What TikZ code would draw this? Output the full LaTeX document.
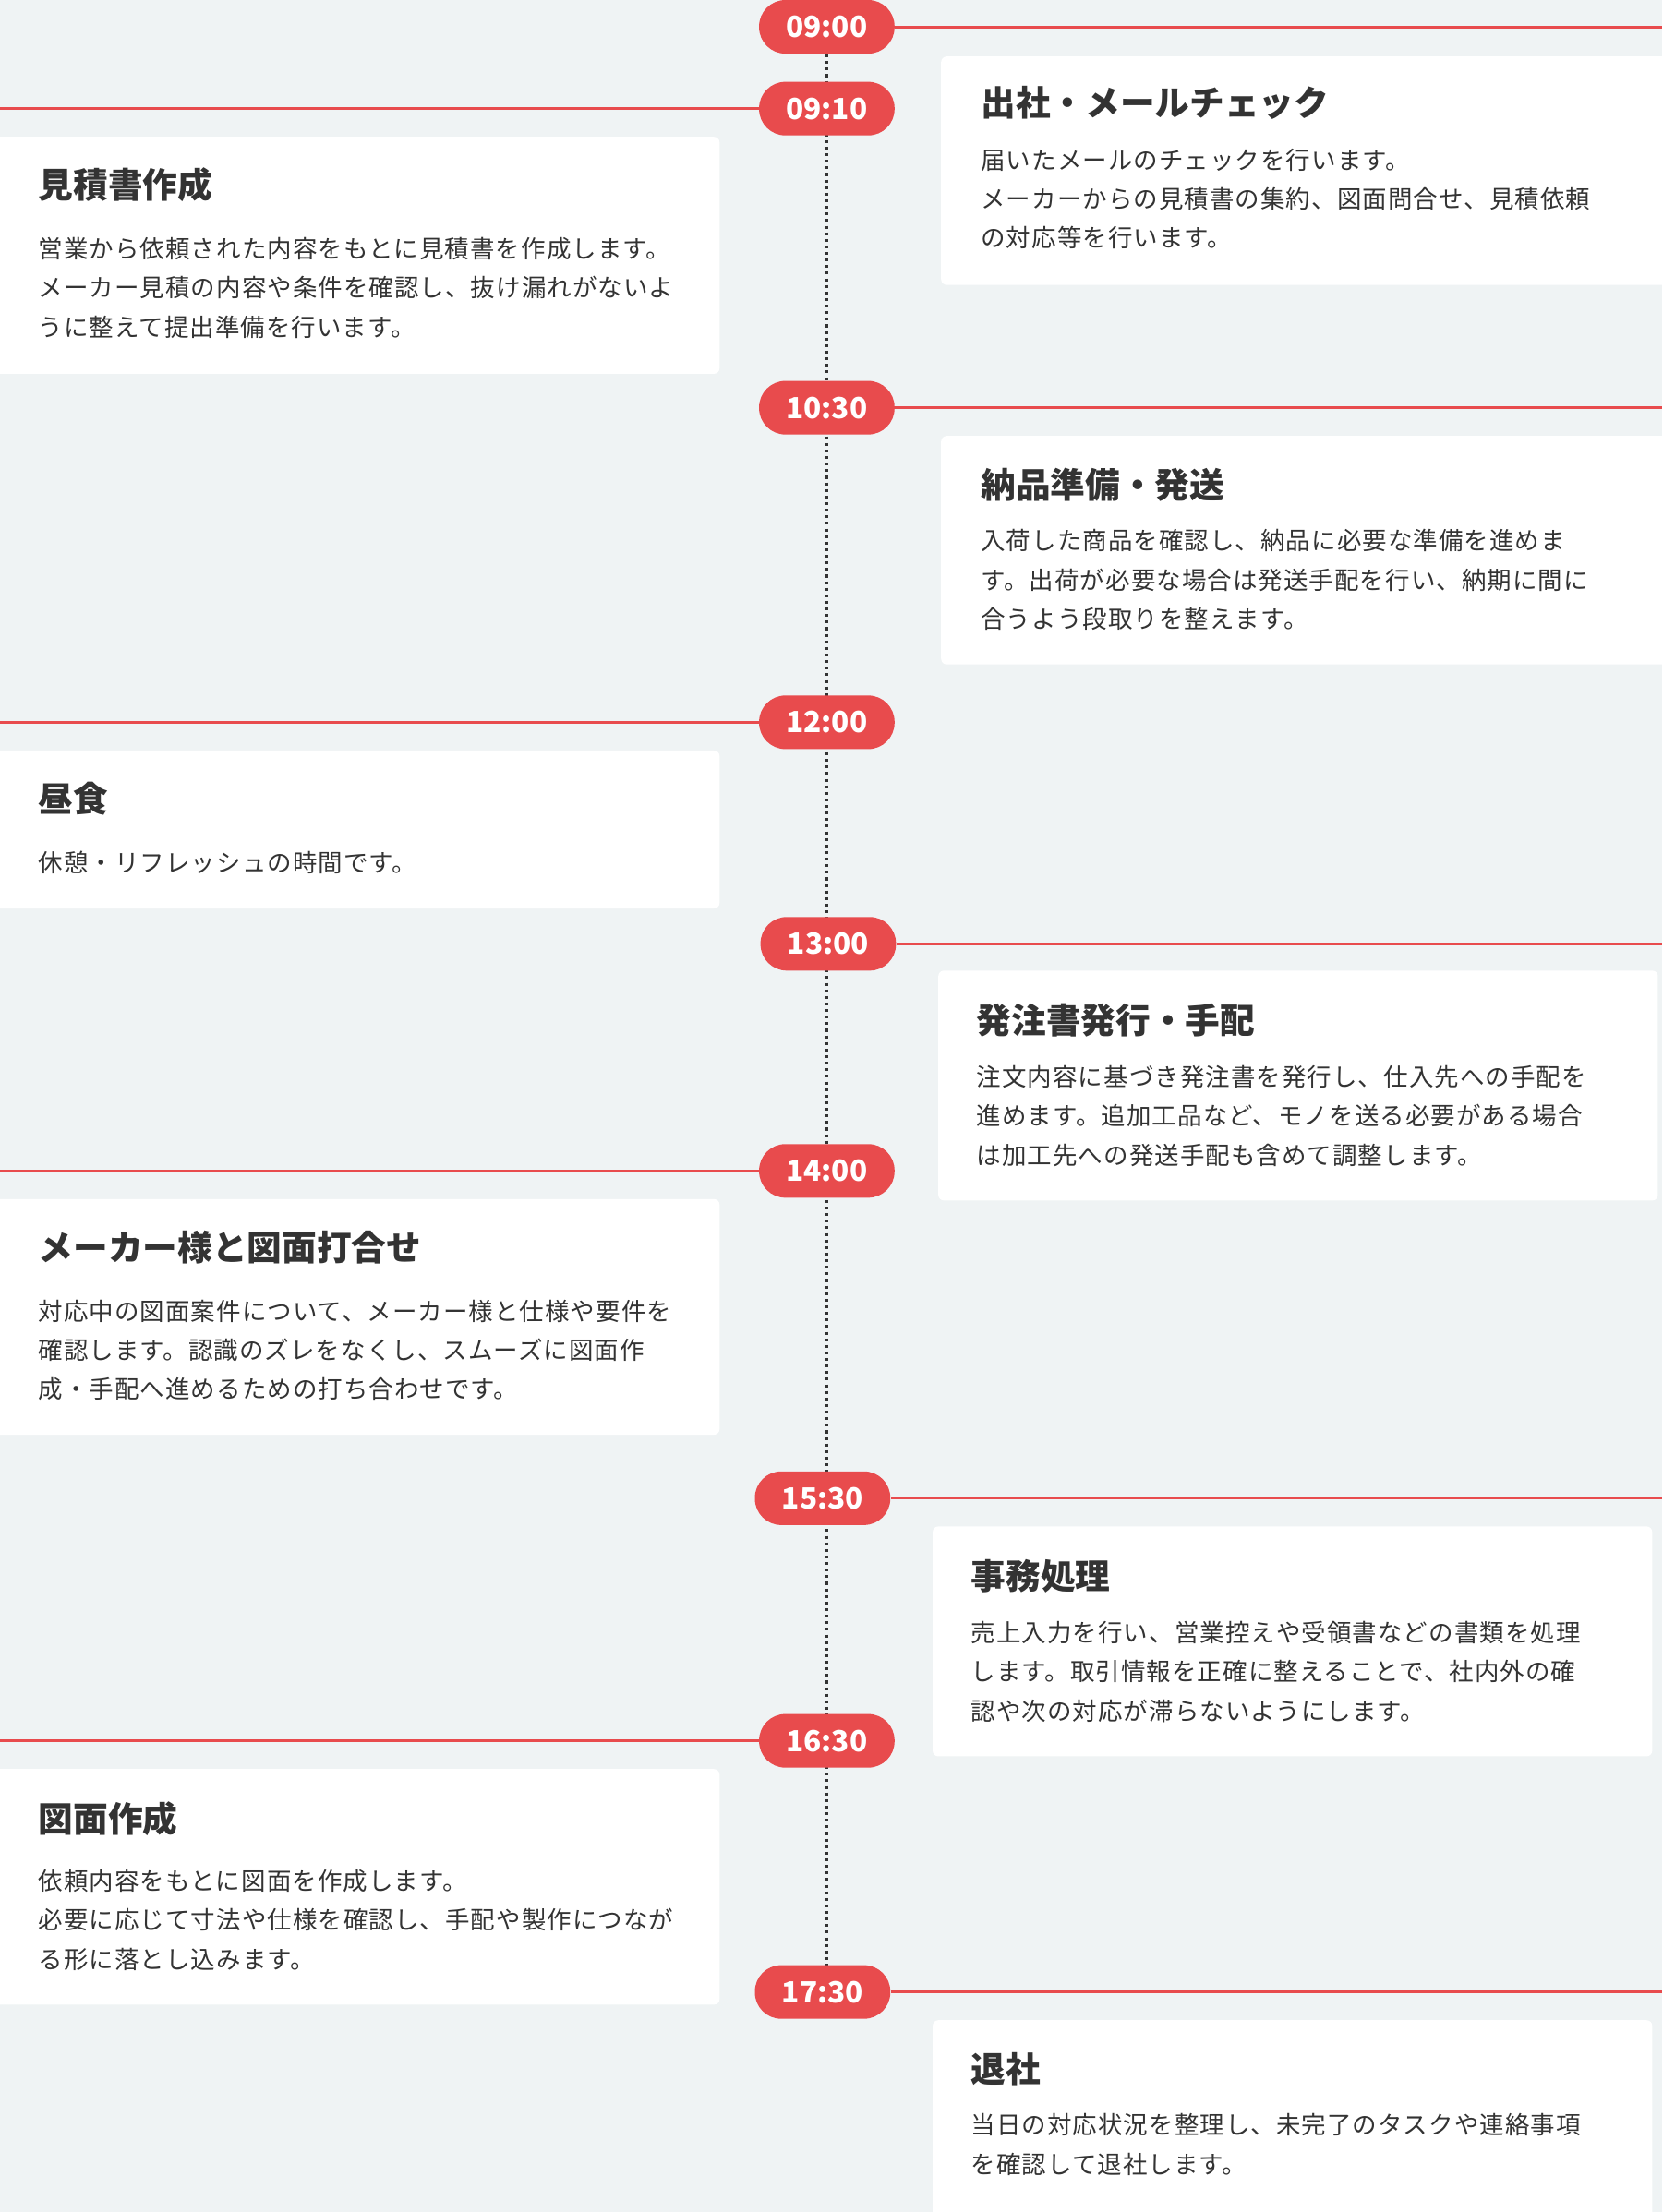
\documentclass[tikz,border=0pt]{standalone}
\usepackage{fontspec}
\setmainfont{Noto Sans CJK JP}
\newfontfamily\bodyfont[LetterSpace=4]{Noto Sans CJK JP}
\usetikzlibrary{positioning}
\definecolor{bgray}{HTML}{EFF3F4}
\definecolor{tred}{HTML}{E84B4D}
\definecolor{ink}{HTML}{333333}
\tikzset{
  timepill/.style={fill=tred, text=white, rounded corners=14pt, minimum width=72pt,
    minimum height=28.5pt, inner sep=0pt, font=\fontsize{15.5}{15.5}\selectfont\bfseries},
  redline/.style={tred, line width=1.5pt},
  cardbox/.style={fill=white, rounded corners=3pt},
  cardtitle/.style={anchor=west, inner sep=0pt, text=ink, font=\fontsize{18.5}{18.5}\selectfont\bfseries},
  cardtext/.style={anchor=north west, inner sep=0pt, align=left, text=ink,
    font=\bodyfont\fontsize{13}{20.8}\selectfont},
}
\begin{document}
\begin{tikzpicture}[x=0.75pt, y=-0.75pt]
\fill [bgray] (0,0) rectangle (1178,1568);
\useasboundingbox (0,0) rectangle (1178,1568);
% cards
\fill [cardbox] (667,40) rectangle (1190,202);
\fill [cardbox] (-10,97) rectangle (510,265);
\fill [cardbox] (667,309) rectangle (1190,471);
\fill [cardbox] (-10,532) rectangle (510,644);
\fill [cardbox] (665,688) rectangle (1175,851);
\fill [cardbox] (-10,850) rectangle (510,1017);
\fill [cardbox] (661,1082) rectangle (1171,1245);
\fill [cardbox] (-10,1254) rectangle (510,1421);
\fill [cardbox] (661,1432) rectangle (1171,1580);
% card texts
\node [cardtitle] at (695,73) {出社・メールチェック};
\node [cardtext] at (695,105) {届いたメールのチェックを行います。\\メーカーからの見積書の集約、図面問合せ、見積依頼\\の対応等を行います。};
\node [cardtitle] at (27,131) {見積書作成};
\node [cardtext] at (27,168) {営業から依頼された内容をもとに見積書を作成します。\\メーカー見積の内容や条件を確認し、抜け漏れがないよ\\うに整えて提出準備を行います。};
\node [cardtitle] at (695,344) {納品準備・発送};
\node [cardtext] at (695,375) {入荷した商品を確認し、納品に必要な準備を進めま\\す。出荷が必要な場合は発送手配を行い、納期に間に\\合うよう段取りを整えます。};
\node [cardtitle] at (27,566) {昼食};
\node [cardtext] at (27,603) {休憩・リフレッシュの時間です。};
\node [cardtitle] at (692,723) {発注書発行・手配};
\node [cardtext] at (692,755) {注文内容に基づき発注書を発行し、仕入先への手配を\\進めます。追加工品など、モノを送る必要がある場合\\は加工先への発送手配も含めて調整します。};
\node [cardtitle] at (27,884) {メーカー様と図面打合せ};
\node [cardtext] at (27,921) {対応中の図面案件について、メーカー様と仕様や要件を\\確認します。認識のズレをなくし、スムーズに図面作\\成・手配へ進めるための打ち合わせです。};
\node [cardtitle] at (688,1117) {事務処理};
\node [cardtext] at (688,1149) {売上入力を行い、営業控えや受領書などの書類を処理\\します。取引情報を正確に整えることで、社内外の確\\認や次の対応が滞らないようにします。};
\node [cardtitle] at (27,1289) {図面作成};
\node [cardtext] at (27,1325) {依頼内容をもとに図面を作成します。\\必要に応じて寸法や仕様を確認し、手配や製作につなが\\る形に落とし込みます。};
\node [cardtitle] at (688,1467) {退社};
\node [cardtext] at (688,1498) {当日の対応状況を整理し、未完了のタスクや連絡事項\\を確認して退社します。};
% timeline
\coordinate (top) at (586,20);
\coordinate (bot) at (586,1412);
\draw [ink, line width=1.5pt, dotted] (top) -- (bot);
\coordinate (rend) at (1178,0);
\coordinate (lend) at (0,0);
\node [timepill] (t0900) at (586,19) {09:00};
\node [timepill] (t0910) at (586,77) {09:10};
\node [timepill] (t1030) at (586,289) {10:30};
\node [timepill] (t1200) at (586,512) {12:00};
\node [timepill] (t1300) at (587,669) {13:00};
\node [timepill] (t1400) at (586,830) {14:00};
\node [timepill] (t1530) at (583,1062) {15:30};
\node [timepill] (t1630) at (586,1234) {16:30};
\node [timepill] (t1730) at (583,1412) {17:30};
\foreach \t in {0900,1030,1300,1530,1730}
  \draw [redline] (t\t.east) -- (t\t.east -| rend);
\foreach \t in {0910,1200,1400,1630}
  \draw [redline] (t\t.west) -- (t\t.west -| lend);
\end{tikzpicture}
\end{document}
